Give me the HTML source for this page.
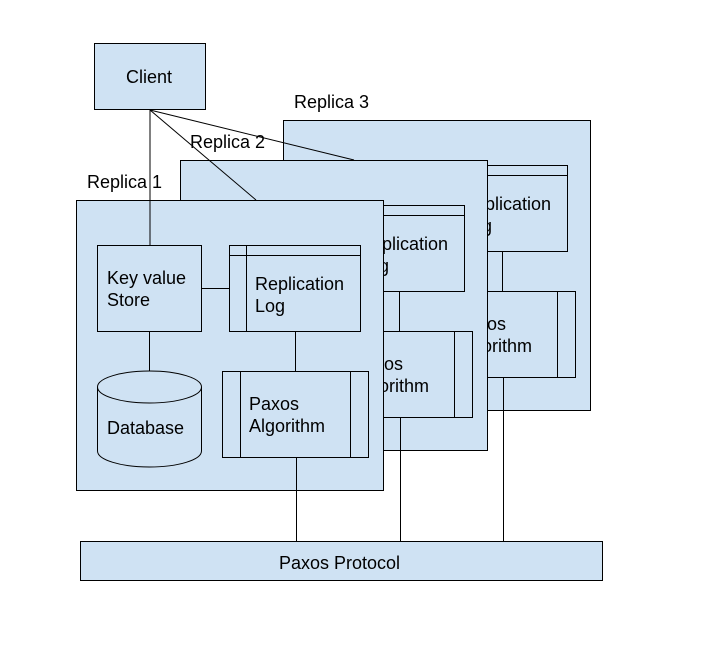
<!DOCTYPE html>
<html><head><style>body{margin:0;background:#fff}svg{display:block}</style></head><body>
<svg width="707" height="669" xmlns="http://www.w3.org/2000/svg" font-family="Liberation Sans, Arial, sans-serif" font-size="18" fill="#000">
<defs>
<g id="rep">
<rect x="76.5" y="200.5" width="307" height="290" fill="#cfe2f3" stroke="#000"/>
<g stroke="#000" fill="#cfe2f3">
<rect x="97.5" y="245.5" width="104" height="86"/>
<rect x="229.5" y="245.5" width="131" height="86"/>
<line x1="229" y1="255.5" x2="361" y2="255.5"/>
<line x1="246.5" y1="245" x2="246.5" y2="332"/>
<line x1="201" y1="288.5" x2="229" y2="288.5"/>
<line x1="149.5" y1="331" x2="149.5" y2="371"/>
<line x1="295.5" y1="331" x2="295.5" y2="371"/>
<path d="M97.5 387 L97.5 451 A52 16 0 0 0 201.5 451 L201.5 387 A52 16 0 0 0 97.5 387 A52 16 0 0 0 201.5 387"/>
<rect x="222.5" y="371.5" width="146" height="86"/>
<line x1="240.5" y1="371" x2="240.5" y2="458"/>
<line x1="350.5" y1="371" x2="350.5" y2="458"/>
<line x1="296.5" y1="457" x2="296.5" y2="491"/>
</g>
<text x="107" y="284">Key value</text>
<text x="107" y="306">Store</text>
<text x="255" y="290">Replication</text>
<text x="255" y="312">Log</text>
<text x="107" y="434">Database</text>
<text x="249" y="410">Paxos</text>
<text x="249" y="432">Algorithm</text>
</g>
</defs>
<use href="#rep" transform="translate(207,-80)"/>
<use href="#rep" transform="translate(104,-40)"/>
<use href="#rep"/>
<g stroke="#000" fill="#cfe2f3">
<line x1="503.5" y1="410" x2="503.5" y2="541"/>
<line x1="400.5" y1="450" x2="400.5" y2="541"/>
<line x1="296.5" y1="490" x2="296.5" y2="541"/>
<rect x="94.5" y="43.5" width="111" height="66"/>
<line x1="150" y1="110" x2="150" y2="245"/>
<line x1="150" y1="110" x2="256" y2="200"/>
<line x1="150" y1="110" x2="354" y2="160"/>
<rect x="80.5" y="541.5" width="522" height="39"/>
</g>
<text x="126" y="83">Client</text>
<text x="294" y="108">Replica 3</text>
<text x="190" y="148">Replica 2</text>
<text x="87" y="188">Replica 1</text>
<text x="279" y="569">Paxos Protocol</text>
</svg>
</body></html>
